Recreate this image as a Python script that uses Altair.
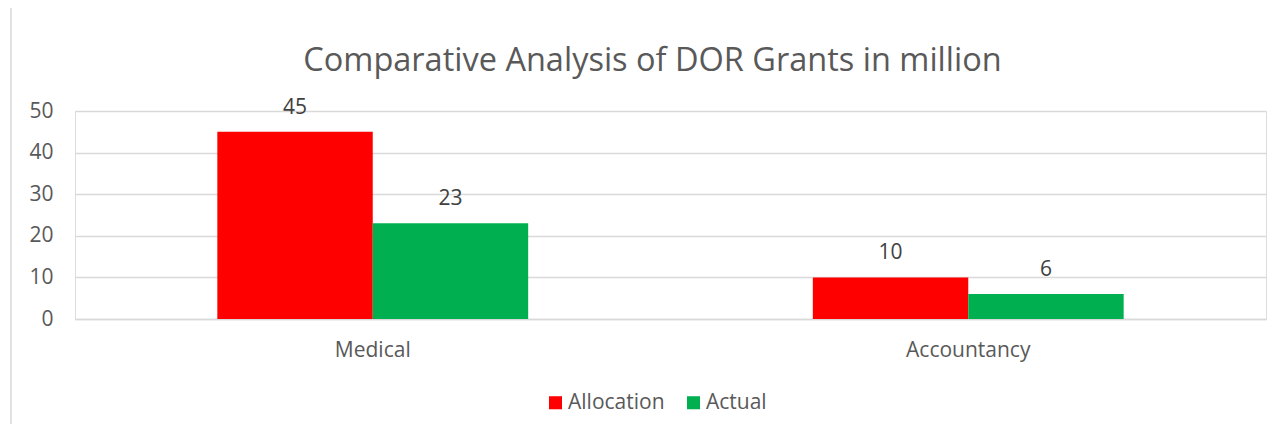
import altair as alt
import pandas as pd

categories = ["Medical", "Accountancy"]
series = ["Allocation", "Actual"]
allocation = [45, 10]
actual = [23, 6]
colors = ["#FF0000", "#00B050"]
y_ticks = [0, 10, 20, 30, 40, 50]
title_text = "Comparative Analysis of DOR Grants in million"

rows = []
for i, c in enumerate(categories):
    rows.append({"Category": c, "Series": series[0], "Value": allocation[i]})
    rows.append({"Category": c, "Series": series[1], "Value": actual[i]})
df = pd.DataFrame(rows)

FONT = "Open Sans"
GRAY = "#595959"

x_enc = alt.X(
    "Category:N",
    sort=categories,
    scale=alt.Scale(paddingInner=0.478, paddingOuter=0.239),
    axis=alt.Axis(
        title=None, labelAngle=0, ticks=False, domainColor="#D9D9D9",
        domainWidth=1.3, labelPadding=20, labelFontSize=21, labelColor=GRAY,
        labelFont=FONT, grid=False,
    ),
)
y_enc = alt.Y(
    "Value:Q",
    scale=alt.Scale(domain=[0, 50]),
    axis=alt.Axis(
        title=None, values=y_ticks, ticks=False, domain=False,
        gridColor="#D9D9D9", gridWidth=1.3, labelPadding=22,
        labelFontSize=21, labelColor=GRAY, labelFont=FONT,
    ),
)
xoff = alt.XOffset("Series:N", sort=series, scale=alt.Scale(paddingInner=0, paddingOuter=0))

bars = alt.Chart(df).mark_bar().encode(
    x=x_enc,
    xOffset=xoff,
    y=y_enc,
    color=alt.Color(
        "Series:N",
        sort=series,
        scale=alt.Scale(domain=series, range=colors),
        legend=alt.Legend(
            title=None, orient="none", legendX=470, legendY=281,
            direction="horizontal", symbolType="square", symbolSize=170,
            symbolStrokeWidth=0, labelFontSize=21, labelColor=GRAY,
            labelFont=FONT, labelOffset=2, columnPadding=18,
        ),
    ),
)

labels = alt.Chart(df).mark_text(
    baseline="alphabetic", dy=-18, fontSize=21, font=FONT, color="#404040"
).encode(
    x=alt.X("Category:N", sort=categories),
    xOffset=alt.XOffset("Series:N", sort=series),
    y="Value:Q",
    text="Value:Q",
)

border = alt.Chart(pd.DataFrame({"a": [0]})).mark_rule(
    color="#D9D9D9", strokeWidth=1.5
).encode(x=alt.value(-64), y=alt.value(-111), y2=alt.value(330))

chart = alt.layer(border, bars, labels).properties(
    width=1191,
    height=208,
    autosize=alt.AutoSizeParams(type="none"),
    padding={"left": 67, "top": 103, "right": 5, "bottom": 105},
    title=alt.TitleParams(
        title_text, fontSize=32.5, font=FONT, fontWeight="normal", color=GRAY,
        anchor="middle", dx=-18, offset=-78,
    ),
).configure_view(stroke=None).configure(background="white")

chart.save("out.html", embed_options={"renderer": "svg", "actions": False})
